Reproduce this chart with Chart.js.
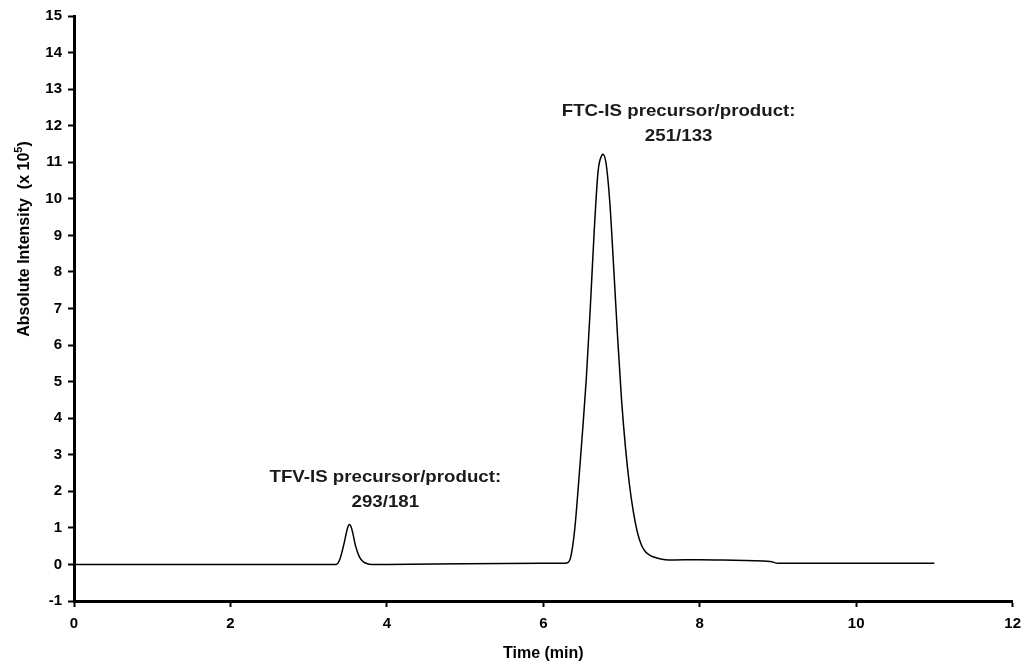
<!DOCTYPE html>
<html>
<head>
<meta charset="utf-8">
<script src="https://cdn.jsdelivr.net/npm/chart.js@4.4.0/dist/chart.umd.min.js"></script>
<style>
  html, body { margin: 0; padding: 0; background: #fff; }
  #wrap { width: 1029px; height: 666px; position: relative; }
</style>
</head>
<body>
<div id="wrap"><canvas id="c" width="1029" height="666"></canvas></div>
<script>
// ---- Data ----
const timeMin = [
  0, 1, 2, 3, 3.3, 3.35, 3.40, 3.45, 3.50, 3.52, 3.55, 3.60, 3.65, 3.70, 3.75, 3.8,
  4.0, 5.0, 6.0, 6.25, 6.30, 6.35, 6.40, 6.45, 6.50, 6.55, 6.60, 6.65, 6.70, 6.75, 6.76,
  6.80, 6.85, 6.90, 6.95, 7.00, 7.05, 7.10, 7.15, 7.20, 7.25, 7.30, 7.35, 7.40, 7.50,
  7.60, 8.00, 8.30, 8.90, 9.00, 10.0, 11.0
];
const intensity = [
  0, 0, 0, 0, 0, 0.00, 0.15, 0.55, 1.02, 1.09, 0.98, 0.50, 0.20, 0.07, 0.02, 0.0,
  0.0, 0.02, 0.03, 0.03, 0.04, 0.20, 0.93, 2.2, 3.6, 5.1, 7.0, 9.1, 10.75, 11.2, 11.22,
  11.0, 9.9, 8.1, 6.2, 4.5, 3.2, 2.2, 1.45, 0.9, 0.55, 0.36, 0.27, 0.21, 0.15,
  0.12, 0.13, 0.12, 0.08, 0.03, 0.03, 0.03
];
const xTicks = [0, 2, 4, 6, 8, 10, 12];
const yTicks = [-1, 0, 1, 2, 3, 4, 5, 6, 7, 8, 9, 10, 11, 12, 13, 14, 15];
const peakLabels = [
  { lines: ["TFV-IS precursor/product:", "293/181"], x: 3.98, y: 2.39 },
  { lines: ["FTC-IS precursor/product:", "251/133"], x: 7.73, y: 12.40 }
];
const xTitle = "Time (min)";
const yTitleMain = "Absolute Intensity  (x 10";
const yTitleSup = "5";
const yTitleEnd = ")";

const points = timeMin.map((t, i) => ({ x: t, y: intensity[i] }));
const FONT = "'Liberation Sans', Arial, Helvetica, sans-serif";

const annotate = {
  id: 'annotate',
  afterDraw(chart) {
    const ctx = chart.ctx;
    const xs = chart.scales.x, ys = chart.scales.y;
    ctx.save();
    ctx.fillStyle = '#1a1a1a';
    ctx.font = 'bold 17px ' + FONT;
    ctx.textAlign = 'center';
    ctx.textBaseline = 'middle';
    peakLabels.forEach(p => {
      const px = xs.getPixelForValue(p.x);
      const py = ys.getPixelForValue(p.y);
      p.lines.forEach((ln, i) => {
        ctx.save();
        ctx.translate(px, py + i * 25);
        ctx.scale(1.1, 1);
        ctx.fillText(ln, 0, 0);
        ctx.restore();
      });
    });
    // x axis title
    ctx.font = 'bold 16px ' + FONT;
    ctx.fillStyle = '#000';
    ctx.fillText(xTitle, (xs.left + xs.right) / 2, 654);
    // y axis title with superscript
    ctx.translate(25, 239);
    ctx.rotate(-Math.PI / 2);
    ctx.textAlign = 'left';
    const f1 = 'bold 16px ' + FONT, f2 = 'bold 11px ' + FONT;
    ctx.font = f1; const w1 = ctx.measureText(yTitleMain).width;
    ctx.font = f2; const w2 = ctx.measureText(yTitleSup).width;
    ctx.font = f1; const w3 = ctx.measureText(yTitleEnd).width;
    let sx = -(w1 + w2 + w3) / 2;
    ctx.font = f1; ctx.fillText(yTitleMain, sx, 0); sx += w1;
    ctx.font = f2; ctx.fillText(yTitleSup, sx, -6); sx += w2;
    ctx.font = f1; ctx.fillText(yTitleEnd, sx, 0);
    ctx.restore();
  }
};

new Chart(document.getElementById('c'), {
  type: 'line',
  data: {
    datasets: [{
      data: points,
      borderColor: '#000',
      borderWidth: 1.5,
      pointRadius: 0,
      fill: false,
      cubicInterpolationMode: 'monotone'
    }]
  },
  options: {
    responsive: false,
    animation: false,
    events: [],
    layout: { padding: { top: 16, right: 15, left: 0, bottom: 0 } },
    plugins: { legend: { display: false }, tooltip: { enabled: false } },
    scales: {
      x: {
        type: 'linear', min: 0, max: 12,
        afterBuildTicks: s => { s.ticks = xTicks.map(v => ({ value: v })); },
        afterFit: s => { s.height = 65; },
        border: { display: true, color: '#000', width: 3 },
        grid: { display: true, drawOnChartArea: false, drawTicks: true, tickLength: 6, tickWidth: 2, tickColor: '#000' },
        ticks: { color: '#000', font: { family: FONT, size: 15, weight: 'bold' }, padding: 8, maxRotation: 0 }
      },
      y: {
        type: 'linear', min: -1, max: 15,
        afterBuildTicks: s => { s.ticks = yTicks.map(v => ({ value: v })); },
        afterFit: s => { s.width = 74; },
        border: { display: true, color: '#000', width: 3 },
        grid: { display: true, drawOnChartArea: false, drawTicks: true, tickLength: 6, tickWidth: 2, tickColor: '#000' },
        ticks: { color: '#000', font: { family: FONT, size: 15, weight: 'bold' }, padding: 6 }
      }
    }
  },
  plugins: [annotate]
});
</script>
</body>
</html>
